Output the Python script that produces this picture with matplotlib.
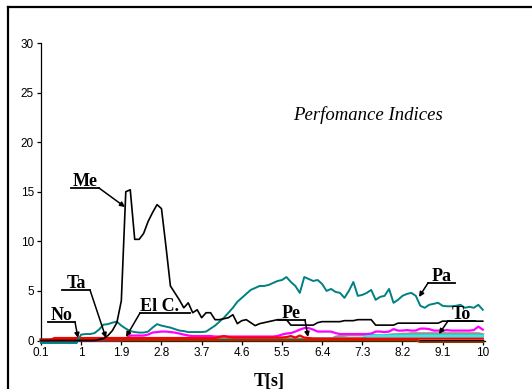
import matplotlib
matplotlib.use('Agg')
import matplotlib.pyplot as plt
import numpy as np
from matplotlib.lines import Line2D

W, H = 532, 389

# categories: time 0.1 .. 10.0 s
t_values = np.round(np.arange(1, 101) * 0.1, 1)
x_tick_labels = ['0.1', '1', '1.9', '2.8', '3.7', '4.6', '5.5', '6.4', '7.3', '8.2', '9.1', '10']
y_ticks = [0, 5, 10, 15, 20, 25, 30]

me = [0, 0, 0, 0, 0, 0, 0, 0, 0, 0,
      0, 0, 0, 0.1, 0.2, 0.5, 1.0, 1.8, 4.0, 15.0,
      15.2, 10.2, 10.2, 10.8, 12.0, 12.9, 13.7, 13.3, 9.5, 5.5,
      4.8, 4.1, 3.3, 3.8, 2.8, 3.1, 2.3, 2.8, 2.8, 2.1,
      2.1, 2.2, 2.3, 2.6, 1.7, 2.0, 2.1, 1.8, 1.5, 1.7,
      1.8, 1.9, 2.0, 2.1, 2.1, 2.1, 1.55, 1.55, 1.55, 1.55,
      1.55, 1.55, 1.8, 1.9, 1.9, 1.9, 1.9, 1.9, 2.0, 2.0,
      2.0, 2.1, 2.1, 2.1, 2.1, 1.55, 1.55, 1.55, 1.55, 1.55,
      1.75, 1.75, 1.75, 1.75, 1.75, 1.75, 1.75, 1.75, 1.75, 1.75,
      1.95, 1.95, 1.95, 1.95, 1.95, 1.95, 1.95, 1.95, 1.95, 1.95]

pa = [-0.25, -0.25, -0.25, -0.25, -0.25, -0.25, -0.25, -0.25, -0.25, 0.6,
      0.65, 0.65, 0.75, 1.1, 1.6, 1.65, 1.8, 1.9, 1.5, 1.2,
      0.95, 0.85, 0.8, 0.8, 0.9, 1.3, 1.65, 1.5, 1.4, 1.3,
      1.15, 1.0, 0.95, 0.85, 0.85, 0.85, 0.85, 0.9, 1.2, 1.5,
      1.9, 2.3, 2.8, 3.3, 3.9, 4.3, 4.7, 5.1, 5.3, 5.5,
      5.5, 5.6, 5.8, 6.0, 6.1, 6.4, 5.9, 5.5, 4.8, 6.4,
      6.2, 6.0, 6.1, 5.7, 5.0, 5.2, 4.9, 4.8, 4.3, 5.0,
      5.9, 4.5, 4.6, 4.8, 5.1, 4.1, 4.4, 4.5, 5.2, 3.8,
      4.1, 4.5, 4.7, 4.8, 4.5, 3.5, 3.3, 3.6, 3.7, 3.8,
      3.5, 3.45, 3.45, 3.5, 3.6, 3.3, 3.4, 3.3, 3.6, 3.1]

pe = [0, 0, 0, 0, 0, 0, 0, 0, 0, 0,
      0, 0, 0, 0, 0, 0, 0, 0, 0, 0.2,
      0.5, 0.5, 0.5, 0.5, 0.6, 0.8, 0.85, 0.9, 0.9, 0.85,
      0.8, 0.7, 0.6, 0.5, 0.45, 0.45, 0.45, 0.45, 0.45, 0.4,
      0.4, 0.4, 0.4, 0.4, 0.4, 0.4, 0.4, 0.4, 0.4, 0.4,
      0.4, 0.4, 0.4, 0.45, 0.6, 0.7, 0.75, 0.9, 1.1, 1.25,
      1.25, 1.1, 0.9, 0.9, 0.9, 0.9, 0.75, 0.65, 0.65, 0.65,
      0.65, 0.65, 0.65, 0.65, 0.7, 0.9, 0.9, 0.85, 0.9, 1.15,
      1.0, 1.0, 1.05, 1.0, 1.0, 1.2, 1.2, 1.15, 1.0, 1.0,
      1.0, 1.05, 1.0, 1.0, 1.0, 1.0, 1.0, 1.05, 1.4, 1.1]

ta = [0.05, 0.05, 0.05, 0.25, 0.25, 0.25, 0.25, 0.25, 0.25, 0.25,
      0.25, 0.25, 0.25, 0.25, 0.25, 0.25, 0.25, 0.25, 0.25, 0.25,
      0.25, 0.25, 0.25, 0.25, 0.25, 0.25, 0.25, 0.25, 0.25, 0.25,
      0.25, 0.25, 0.25, 0.25, 0.25, 0.25, 0.25, 0.25, 0.25, 0.25,
      0.35, 0.45, 0.35, 0.3, 0.3, 0.3, 0.3, 0.3, 0.3, 0.3,
      0.3, 0.3, 0.3, 0.3, 0.3, 0.35, 0.45, 0.3, 0.5, 0.3,
      0.25, 0.2, 0.2, 0.2, 0.2, 0.2, 0.2, 0.2, 0.2, 0.2,
      0.2, 0.2, 0.2, 0.2, 0.2, 0.2, 0.2, 0.2, 0.2, 0.2,
      0.2, 0.2, 0.2, 0.2, 0.2, 0.2, 0.2, 0.2, 0.2, 0.2,
      0.2, 0.2, 0.2, 0.2, 0.2, 0.2, 0.2, 0.2, 0.2, 0.2]

no = [0.05] * 85 + [-0.1] * 15

to = [0.1] * 66 + [0.35, 0.45, 0.5, 0.55,
      0.55, 0.55, 0.55, 0.55, 0.55, 0.5, 0.5, 0.5, 0.55, 0.6,
      0.6, 0.65, 0.65, 0.7, 0.7, 0.7, 0.7, 0.7, 0.7, 0.7,
      0.7, 0.7, 0.7, 0.7, 0.7, 0.7, 0.7, 0.7, 0.7, 0.6]

el = [0.0] * 39 + [0.2] * 34 + [0.45] * 27

zero_line = [np.nan] * 85 + [0.02] * 15

fig = plt.figure(figsize=(W / 100, H / 100), dpi=100)
ax = fig.add_axes([41 / W, 1 - 340.5 / H, (485 - 41) / W, (340.5 - 43) / H])

ax.plot(t_values, to, color='#969696', lw=2.0, clip_on=False, zorder=2)
ax.plot(t_values, el, color='#00FFFF', lw=1.8, clip_on=False, zorder=2)
ax.plot(t_values, pe, color='#FF00FF', lw=1.6, clip_on=False, zorder=3)
ax.plot(t_values, no, color='#993300', lw=2.2, clip_on=False, zorder=3)
ax.plot(t_values, ta, color='#FF0000', lw=1.6, clip_on=False, zorder=4)
ax.plot(t_values, pa, color='#008080', lw=1.4, clip_on=False, zorder=5)
ax.plot(t_values, me, color='black', lw=1.2, clip_on=False, zorder=6)
ax.plot(t_values, zero_line, color='black', lw=1.0, clip_on=False, zorder=7)

ax.set_xlim(0.1, 10.05)
ax.set_ylim(0, 30)
ax.set_xticks(t_values[::9])
ax.set_xticklabels(x_tick_labels)
ax.set_yticks(y_ticks)
for s in ['top', 'right']:
    ax.spines[s].set_visible(False)
for s in ['left', 'bottom']:
    ax.spines[s].set_linewidth(0.9)
ax.tick_params(axis='both', direction='out', length=3, width=0.9, labelsize=8.5, pad=2)
for lbl in ax.get_xticklabels() + ax.get_yticklabels():
    lbl.set_fontfamily('Liberation Sans')

# frame lines
fig.add_artist(Line2D([8.3 / W, 8.3 / W], [0, 1 - 7 / H], transform=fig.transFigure, color='black', lw=1.6))
fig.add_artist(Line2D([8.3 / W, 1], [1 - 7 / H, 1 - 7 / H], transform=fig.transFigure, color='black', lw=1.6))

fig.text(269 / W, 1 - 386 / H, 'T[s]', fontfamily='Liberation Serif', fontweight='bold',
         fontsize=13, ha='center', va='baseline')
fig.text(293 / W, 1 - 120 / H, 'Perfomance Indices', fontfamily='Liberation Serif', fontstyle='italic',
         fontsize=13.5, ha='left', va='baseline')

labels = [
    # text, underline x0, x1, y, leader start, leader tip
    ('Me', 71, 99, 188, (99, 188), (125, 207)),
    ('Ta', 62, 90, 290, (90, 290), (106, 338)),
    ('No', 48, 75, 322, (75, 322), (78, 338)),
    ('El C.', 140, 190, 313, (140, 313), (126, 337)),
    ('Pe', 278, 305, 320, (305, 320), (308, 337)),
    ('Pa', 428, 455, 283, (428, 283), (419, 297)),
    ('To', 448, 475, 321, (448, 321), (439, 334)),
]
for txt, x0, x1, uy, p0, p1 in labels:
    if txt == 'El C.':
        fig.text(x0 / W, 1 - (uy - 2) / H, txt, fontfamily='Liberation Serif', fontweight='bold',
                 fontsize=13, ha='left', va='baseline', zorder=10)
    else:
        fig.text((x0 + x1) / 2 / W, 1 - (uy - 2) / H, txt, fontfamily='Liberation Serif', fontweight='bold',
                 fontsize=13, ha='center', va='baseline', zorder=10)
    fig.add_artist(Line2D([x0 / W, x1 / W], [1 - uy / H, 1 - uy / H], transform=fig.transFigure,
                          color='black', lw=1.3, zorder=10))
    ax.annotate('', xy=(p1[0], H - p1[1]), xycoords='figure pixels',
                xytext=(p0[0], H - p0[1]), textcoords='figure pixels',
                arrowprops=dict(arrowstyle='-|>', color='black', lw=1.1, mutation_scale=7,
                                shrinkA=0, shrinkB=0), zorder=10)

fig.savefig('out.png', dpi=100)
